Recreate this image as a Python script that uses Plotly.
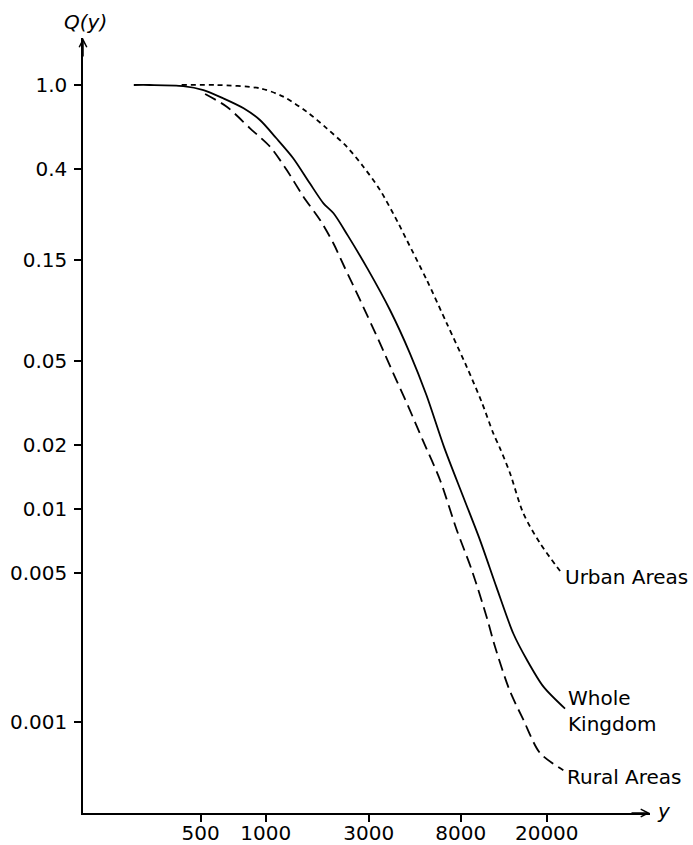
import plotly.graph_objects as go

# Data (income y, proportion Q(y) above y)
whole_x = [245, 290, 415, 515, 635, 790, 940, 1120, 1340, 1600, 1850, 2060, 2400,
           2950, 3760, 4650, 5550, 6700, 8200, 9800, 11700, 14000, 16200, 19300, 24300]
whole_y = [1.0, 1.0, 0.989, 0.947, 0.866, 0.777, 0.684, 0.561, 0.452, 0.344, 0.277,
           0.2485, 0.195, 0.137, 0.087, 0.0544, 0.0345, 0.0196, 0.0115, 0.0072,
           0.0043, 0.0026, 0.00195, 0.00146, 0.00115]

rural_x = [524, 660, 846, 1047, 1251, 1494, 1784, 2056, 2320, 2733, 3382, 3896,
           4573, 5320, 6411, 7661, 8989, 10547, 11523, 13434, 15580, 18621, 23862]
rural_y = [0.907, 0.79, 0.625, 0.512, 0.3975, 0.2976, 0.2311, 0.1795, 0.138,
           0.097, 0.0606, 0.0438, 0.0305, 0.0213, 0.01376, 0.008, 0.00518,
           0.0031, 0.00225, 0.00141, 0.00102, 0.00071, 0.00059]

urban_x = [408, 593, 941, 1206, 1548, 1916, 2371, 2831, 3382, 4111, 4496, 5566,
           6886, 8522, 10000, 11316, 12152, 13521, 15580, 18621, 23467]
urban_y = [1.0, 1.0, 0.965, 0.881, 0.748, 0.625, 0.512, 0.412, 0.32, 0.223,
           0.186, 0.1205, 0.0753, 0.047, 0.032, 0.0228, 0.0194, 0.0148,
           0.00958, 0.00692, 0.005]

x_ticks = [500, 1000, 3000, 8000, 20000]
x_tick_text = ["500", "1000", "3000", "8000", "20000"]
y_ticks = [1.0, 0.4, 0.15, 0.05, 0.02, 0.01, 0.005, 0.001]
y_tick_text = ["1.0", "0.4", "0.15", "0.05", "0.02", "0.01", "0.005", "0.001"]

FONT = "DejaVu Sans"
FS = 20

fig = go.Figure()
fig.add_trace(go.Scatter(x=whole_x, y=whole_y, mode="lines",
                         line=dict(color="black", width=1.8, shape="spline", smoothing=0.8),
                         name="Whole Kingdom"))
fig.add_trace(go.Scatter(x=rural_x, y=rural_y, mode="lines",
                         line=dict(color="black", width=1.8, dash="12px,6px",
                                   shape="spline", smoothing=0.8),
                         name="Rural Areas"))
fig.add_trace(go.Scatter(x=urban_x, y=urban_y, mode="lines",
                         line=dict(color="black", width=1.8, dash="5px,4px",
                                   shape="spline", smoothing=0.8),
                         name="Urban Areas"))

fig.update_layout(
    width=693, height=845,
    margin=dict(l=83, r=43, t=38, b=32, autoexpand=False),
    paper_bgcolor="white", plot_bgcolor="white",
    showlegend=False,
    font=dict(family=FONT, size=FS, color="black"),
)
fig.update_xaxes(type="log", range=[2.154, 4.779], automargin=False,
                 tickvals=x_ticks, ticktext=x_tick_text,
                 showgrid=False, zeroline=False,
                 showline=True, linecolor="black", linewidth=1.5,
                 ticks="outside", ticklen=7, tickwidth=1.5, tickcolor="black",
                 ticklabelstandoff=-6,
                 tickfont=dict(family=FONT, size=FS, color="black"))
fig.update_yaxes(type="log", range=[-3.431, 0.2215], automargin=False,
                 tickvals=y_ticks, ticktext=y_tick_text,
                 showgrid=False, zeroline=False,
                 showline=True, linecolor="black", linewidth=1.5,
                 ticks="outside", ticklen=7, tickwidth=1.5, tickcolor="black",
                 ticklabelstandoff=3,
                 tickfont=dict(family=FONT, size=FS, color="black"))

# axis arrowheads
fig.add_annotation(x=1, y=0, xref="paper", yref="paper", text="",
                   showarrow=True, ax=-20, ay=0, arrowhead=5, arrowsize=1,
                   arrowwidth=1.5, arrowcolor="black")
fig.add_annotation(x=0, y=1, xref="paper", yref="paper", text="",
                   showarrow=True, ax=0, ay=20, arrowhead=5, arrowsize=1,
                   arrowwidth=1.5, arrowcolor="black")

# axis titles
fig.add_annotation(x=0.005, y=1.0, xref="paper", yref="paper", yshift=16,
                   text="<i>Q(y)</i>", showarrow=False, xanchor="center",
                   yanchor="middle", font=dict(family=FONT, size=FS))
fig.add_annotation(x=1.008, y=0, xref="paper", yref="paper", yshift=2,
                   text="<i>y</i>", showarrow=False, xanchor="left",
                   yanchor="middle", font=dict(family=FONT, size=FS))

# curve labels
fig.add_annotation(x=0.847, y=0.3045, xref="paper", yref="paper",
                   text="Urban Areas", showarrow=False, xanchor="left",
                   yanchor="middle", font=dict(family=FONT, size=FS))
fig.add_annotation(x=0.852, y=0.1316, xref="paper", yref="paper",
                   text="Whole<br>Kingdom", showarrow=False, xanchor="left",
                   yanchor="middle", align="left", font=dict(family=FONT, size=FS))
fig.add_annotation(x=0.850, y=0.0468, xref="paper", yref="paper",
                   text="Rural Areas", showarrow=False, xanchor="left",
                   yanchor="middle", font=dict(family=FONT, size=FS))

# remove the default page margin so the figure fills the window exactly
fig.write_html("out.html",
               config={"displayModeBar": False},
               post_script="document.body.style.margin='0';"
                           "document.body.style.overflow='hidden';")
